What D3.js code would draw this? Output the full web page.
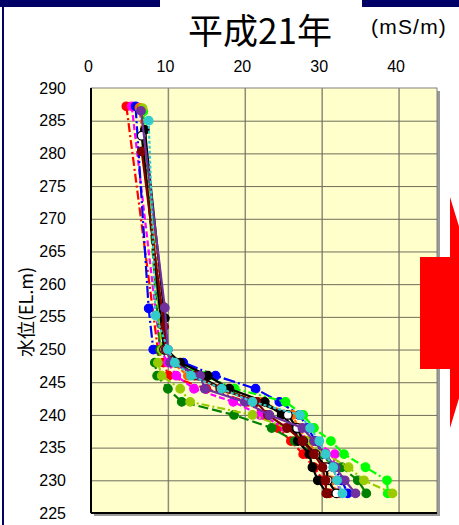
<!DOCTYPE html>
<html>
<head>
<meta charset="utf-8">
<script src="https://cdn.jsdelivr.net/npm/d3@7"></script>
<style>
  body { margin: 0; background: #fff; }
  svg { display: block; }
</style>
</head>
<body>
<svg id="chart" width="459" height="525"></svg>
<script>
// Conductivity profiles, one array per observation point: [elevation (EL.m), conductivity (mS/m)]
const profileRed     = [[287.2, 4.6], [250, 8.7], [248, 9.4], [246, 10.1], [244, 15.0], [242, 20.4], [240, 22.5], [238, 24.3], [236, 26.0], [234, 27.6], [232, 29.0], [230, 30.2], [228, 31.0]];
const profileMagenta = [[287.2, 5.3], [250, 9.0], [248, 10.0], [246, 11.1], [244, 13.4], [242, 18.5], [240, 22.0], [238, 25.3], [236, 29.0], [234, 31.7], [232, 31.5], [230, 32.0], [228, 32.4]];
const profileBlue    = [[287.2, 5.8], [256.3, 7.5], [250, 8.1], [248, 12.0], [246, 16.2], [244, 21.4], [242, 24.5], [240, 27.1], [238, 28.2], [236, 29.2], [234, 30.1], [232, 31.6], [230, 32.6], [228, 33.4]];
const profileOrange  = [[287.0, 6.3], [256.8, 9.2], [250, 9.6], [248, 10.6], [246, 12.6], [244, 17.8], [242, 22.0], [240, 26.2], [238, 27.0], [236, 28.2], [234, 29.4], [232, 30.4], [230, 31.2], [228, 32.0]];
const profileLime    = [[286.4, 6.8], [250, 9.3], [248, 11.0], [246, 14.8], [244, 18.7], [242, 25.3], [240, 27.6], [238, 29.0], [236, 31.2], [234, 32.9], [232, 35.7], [230, 38.5], [228, 38.6]];
const profileGreen   = [[286.8, 6.6], [250, 9.0], [248, 8.3], [246, 8.6], [244, 10.0], [242, 11.8], [240, 18.6], [238, 23.5], [236, 26.5], [234, 29.0], [232, 32.6], [230, 34.7], [228, 35.8]];
const profileOlive   = [[286.9, 6.7], [250, 9.2], [248, 8.7], [246, 9.2], [244, 11.6], [242, 12.9], [240, 21.0], [238, 25.5], [236, 28.0], [234, 30.5], [232, 33.5], [230, 35.5], [228, 39.2]];
const profileBlack   = [[283.6, 7.0], [254.8, 9.6], [250, 9.8], [248, 11.6], [246, 15.2], [244, 18.0], [242, 22.6], [240, 24.8], [238, 26.5], [236, 26.9], [234, 28.4], [232, 28.8], [230, 29.5], [228, 30.7]];
const profileWhite   = [[282.7, 6.6], [250, 9.5], [248, 11.0], [246, 14.0], [244, 17.0], [242, 21.5], [240, 25.6], [238, 26.8], [236, 27.6], [234, 29.2], [232, 30.6], [230, 30.8], [228, 31.9]];
const profileMaroon  = [[280.3, 6.6], [253.5, 9.5], [250, 9.7], [248, 11.0], [246, 13.5], [244, 16.8], [242, 21.5], [240, 23.0], [238, 25.5], [236, 27.5], [234, 29.0], [232, 30.1], [230, 30.5], [228, 30.6]];
const profilePurple  = [[286.5, 6.5], [256.4, 9.6], [250, 10.0], [248, 10.3], [246, 14.2], [244, 14.8], [242, 20.0], [240, 23.2], [238, 27.5], [236, 29.0], [234, 30.5], [232, 31.8], [230, 33.0], [228, 34.4]];
const profileCyan    = [[285.0, 7.5], [255.2, 8.4], [250, 10.0], [248, 10.9], [246, 13.0], [244, 17.0], [242, 21.0], [240, 27.2], [238, 28.5], [236, 29.7], [234, 30.5], [232, 31.5], [230, 32.0], [228, 32.7]];

const xTicks = [0, 10, 20, 30, 40];
const yTicks = [225, 230, 235, 240, 245, 250, 255, 260, 265, 270, 275, 280, 285, 290];
const xDomain = [0, 45];
const yDomain = [225, 290];

// drawing styles, in series order
const seriesStyles = [
  { data: profileRed,     stroke: "#FF0000", fill: "#FF0000", dash: "9,3,2,3" },
  { data: profileMagenta, stroke: "#FF00FF", fill: "#FF00FF", dash: "6,3" },
  { data: profileBlue,    stroke: "#0000FF", fill: "#0000FF", dash: "12,3,2,3" },
  { data: profileOrange,  stroke: "#FF6600", fill: "#FF6600", dash: "4,2" },
  { data: profileLime,    stroke: "#00FF00", fill: "#00FF00", dash: "8,3,2,3,2,3" },
  { data: profileGreen,   stroke: "#008000", fill: "#008000", dash: "10,4" },
  { data: profileOlive,   stroke: "#99CC00", fill: "#99CC00", dash: "8,3,2,3" },
  { data: profileBlack,   stroke: "#000000", fill: "#000000", dash: null },
  { data: profileWhite,   stroke: "#000000", fill: "#FFFFFF", dash: null },
  { data: profileMaroon,  stroke: "#800000", fill: "#800000", dash: null },
  { data: profilePurple,  stroke: "#7030A0", fill: "#7030A0", dash: null },
  { data: profileCyan,    stroke: "#33CCCC", fill: "#33CCCC", dash: "3,2" }
];

const svg = d3.select("#chart");
const plot = { left: 91, right: 437, top: 88, bottom: 513 };

const x = d3.scaleLinear().domain(xDomain).range([plot.left, plot.right]);
const y = d3.scaleLinear().domain(yDomain).range([plot.bottom, plot.top]);

// frame: navy top bars and left rule
svg.append("rect").attr("x", 0).attr("y", 0).attr("width", 160).attr("height", 7).attr("fill", "#000066");
svg.append("rect").attr("x", 362).attr("y", 0).attr("width", 97).attr("height", 7).attr("fill", "#000066");
svg.append("rect").attr("x", 2).attr("y", 0).attr("width", 2).attr("height", 525).attr("fill", "#000066");

// plot area with shadow
const pw = x(xDomain[1]) - x(xDomain[0]);
const ph = y(yDomain[0]) - y(yDomain[1]);
svg.append("rect").attr("x", x(0) + 3).attr("y", y(290) + 3).attr("width", pw).attr("height", ph).attr("fill", "#9a9a9a");
svg.append("rect").attr("x", x(0)).attr("y", y(290)).attr("width", pw).attr("height", ph)
  .attr("fill", "#FFFFCC").attr("stroke", "#808080").attr("stroke-width", 1);

// gridlines
svg.append("g")
  .attr("transform", `translate(0,${plot.bottom})`)
  .call(d3.axisBottom(x).tickValues(xTicks.filter(v => v > 0)).tickSize(-ph).tickFormat(""))
  .call(g => g.select(".domain").remove())
  .call(g => g.selectAll(".tick line").attr("stroke", "#8c8c78").attr("stroke-width", 1.5));

svg.append("g")
  .attr("transform", `translate(${plot.left},0)`)
  .call(d3.axisLeft(y).tickValues(yTicks.filter(v => v > 225 && v < 290)).tickSize(-pw).tickFormat(""))
  .call(g => g.select(".domain").remove())
  .call(g => g.selectAll(".tick line").attr("stroke", "#6e6e5a").attr("stroke-width", 1));

// plot area left/bottom edges
svg.append("line").attr("x1", x(0)).attr("x2", x(0)).attr("y1", y(290)).attr("y2", y(225))
  .attr("stroke", "#000").attr("stroke-width", 2);
svg.append("line").attr("x1", x(0)).attr("x2", x(45)).attr("y1", y(225)).attr("y2", y(225))
  .attr("stroke", "#000").attr("stroke-width", 2);

// tick labels
const tickFont = "'Liberation Sans', Arial, sans-serif";
svg.append("g")
  .attr("transform", "translate(-3,72)")
  .call(d3.axisTop(x).tickValues(xTicks).tickSize(0).tickPadding(0))
  .call(g => g.select(".domain").remove())
  .call(g => g.selectAll("text").attr("font-family", tickFont).attr("font-size", 16).attr("fill", "#000"));

svg.append("g")
  .attr("transform", "translate(66,0)")
  .call(d3.axisLeft(y).tickValues(yTicks).tickSize(0).tickPadding(0))
  .call(g => g.select(".domain").remove())
  .call(g => g.selectAll("text").attr("font-family", tickFont).attr("font-size", 16).attr("fill", "#000"));

// titles
svg.append("text").attr("x", 260).attr("y", 44).attr("text-anchor", "middle")
  .attr("font-family", "'Noto Sans CJK JP', sans-serif").attr("font-size", 35).attr("fill", "#000")
  .text("平成21年");
svg.append("text").attr("x", 371).attr("y", 34)
  .attr("font-family", tickFont).attr("font-size", 21).attr("letter-spacing", 1.2).attr("fill", "#000")
  .text("(mS/m)");
svg.append("text").attr("transform", "translate(33,312) rotate(-90)").attr("text-anchor", "middle")
  .attr("font-family", "'Noto Sans CJK JP', sans-serif").attr("font-size", 18).attr("fill", "#000")
  .text("水位(EL.m)");

// profiles
const line = d3.line().x(d => x(d[1])).y(d => y(d[0]));
const series = svg.append("g");
seriesStyles.forEach(s => {
  const g = series.append("g");
  g.append("path").attr("d", line(s.data)).attr("fill", "none")
    .attr("stroke", s.stroke).attr("stroke-width", 2.2)
    .attr("stroke-dasharray", s.dash);
  g.selectAll("circle").data(s.data).join("circle")
    .attr("cx", d => x(d[1])).attr("cy", d => y(d[0])).attr("r", 4.3)
    .attr("fill", s.fill).attr("stroke", s.stroke).attr("stroke-width", 1.2);
});

// red arrow pointing right, cut by the page edge
svg.append("polygon")
  .attr("points", [[420, 257], [450, 257], [450, 197], [485, 312], [450, 428], [450, 369], [420, 369]].map(p => p.join(",")).join(" "))
  .attr("fill", "#FF0000");
</script>
</body>
</html>
